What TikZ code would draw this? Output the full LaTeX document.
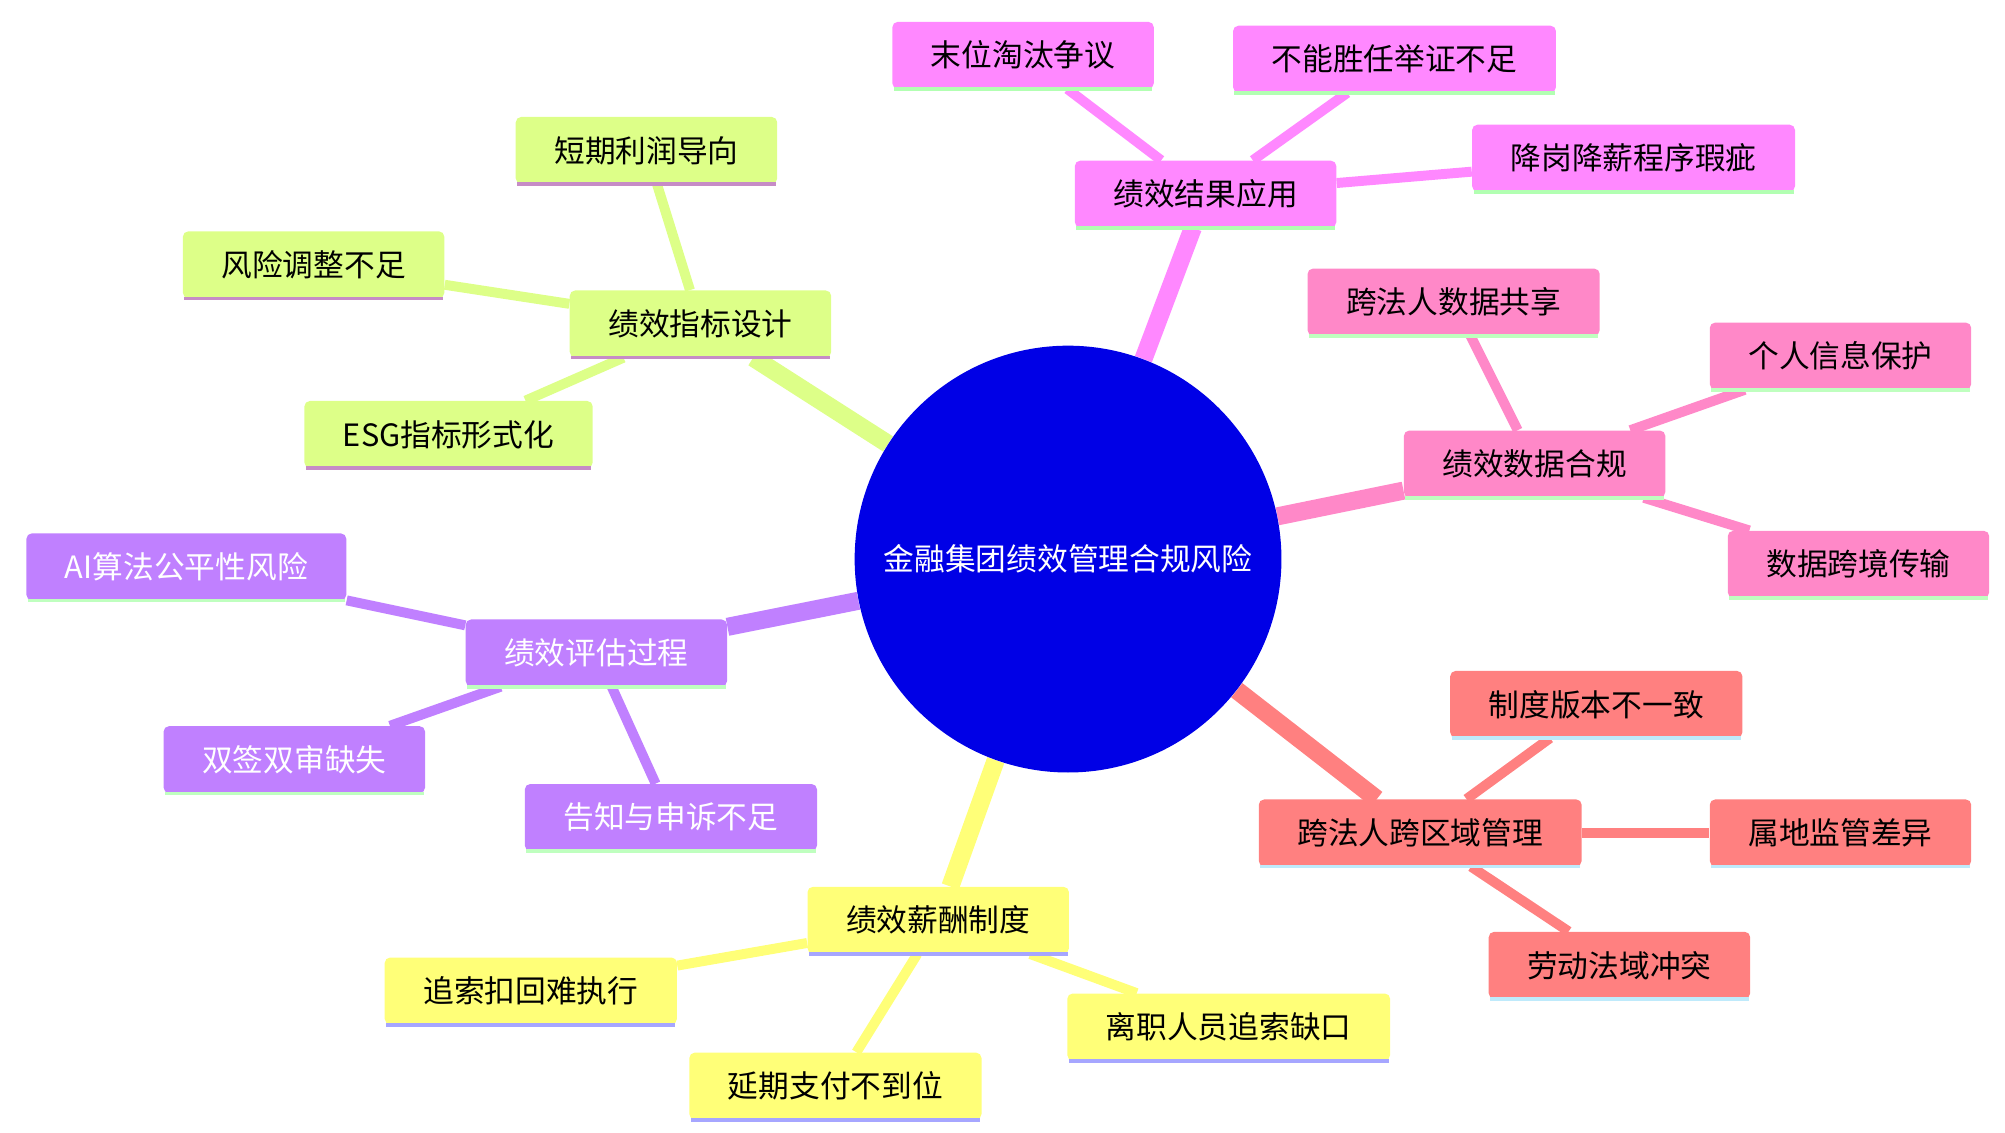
\documentclass[tikz,border=0pt]{standalone}
\usepackage{fontspec}
\setmainfont{Noto Sans CJK SC}
\usetikzlibrary{backgrounds}

\definecolor{cjieguo}{HTML}{FF88FF}
\definecolor{cshuju}{HTML}{FF88C8}
\definecolor{cfaren}{HTML}{FF8080}
\definecolor{cxinchou}{HTML}{FFFF78}
\definecolor{cpinggu}{HTML}{C080FF}
\definecolor{czhibiao}{HTML}{DDFF88}
\definecolor{ccenter}{HTML}{0000E6}

\tikzset{
  topic/.style={rounded corners=3pt, inner xsep=0.75cm, minimum height=1.3cm,
    font=\fontsize{17}{20}\selectfont},
  branch/.style={line width=10pt},
  leaf/.style={line width=5.5pt},
}

\begin{document}
\begin{tikzpicture}[x=0.025cm, y=-0.025cm]
  \useasboundingbox (0,0) rectangle (1560,881);
  % zentrum
  \node[circle, fill=ccenter, minimum size=8.3cm, text=white,
        font=\fontsize{17}{20}\selectfont] (root) at (831,435) {金融集团绩效管理合规风险};
  % hauptaeste und blaetter
  \foreach \name/\pos/\txt/\col/\tcol/\ucol in {
      jg/{(938,151)}/绩效结果应用/cjieguo/black/green!30,
      jg1/{(796,43)}/末位淘汰争议/cjieguo/black/green!30,
      jg2/{(1085,46)}/不能胜任举证不足/cjieguo/black/green!30,
      jg3/{(1271,123)}/降岗降薪程序瑕疵/cjieguo/black/green!30,
      sj/{(1194,361)}/绩效数据合规/cshuju/black/green!25,
      sj1/{(1131,235)}/跨法人数据共享/cshuju/black/green!25,
      sj2/{(1432,277)}/个人信息保护/cshuju/black/green!25,
      sj3/{(1446,439)}/数据跨境传输/cshuju/black/green!25,
      fr/{(1105,648)}/跨法人跨区域管理/cfaren/black/cyan!25,
      fr1/{(1242,548)}/制度版本不一致/cfaren/black/cyan!25,
      fr2/{(1432,648)}/属地监管差异/cfaren/black/cyan!25,
      fr3/{(1260,751)}/劳动法域冲突/cfaren/black/cyan!25,
      xc/{(730,716)}/绩效薪酬制度/cxinchou/black/blue!35,
      xc1/{(413,771)}/追索扣回难执行/cxinchou/black/blue!35,
      xc2/{(650,845)}/延期支付不到位/cxinchou/black/blue!35,
      xc3/{(956,799)}/离职人员追索缺口/cxinchou/black/blue!35,
      pg/{(464,508)}/绩效评估过程/cpinggu/white/green!25,
      pg1/{(145,441)}/AI算法公平性风险/cpinggu/white/green!25,
      pg2/{(229,591)}/双签双审缺失/cpinggu/white/green!25,
      pg3/{(522,636)}/告知与申诉不足/cpinggu/white/green!25,
      zb/{(545,252)}/绩效指标设计/czhibiao/black/violet!45,
      zb1/{(503,117)}/短期利润导向/czhibiao/black/violet!45,
      zb2/{(244,206)}/风险调整不足/czhibiao/black/violet!45,
      zb3/{(349,338)}/ESG指标形式化/czhibiao/black/violet!45}{
    \node[topic, fill=\col, text=\tcol] (\name) at \pos {\txt};
    \draw[\ucol, line width=2pt] ([xshift=1pt]\name.south west) -- ([xshift=-1pt]\name.south east);
  }
  % verbindungen
  \begin{scope}[on background layer]
    \foreach \b/\col in {jg/cjieguo, sj/cshuju, fr/cfaren, xc/cxinchou, pg/cpinggu, zb/czhibiao}{
      \draw[branch, \col] (root) -- (\b);
      \foreach \i in {1,2,3}
        \draw[leaf, \col] (\b) -- (\b\i);
    }
  \end{scope}
\end{tikzpicture}
\end{document}
